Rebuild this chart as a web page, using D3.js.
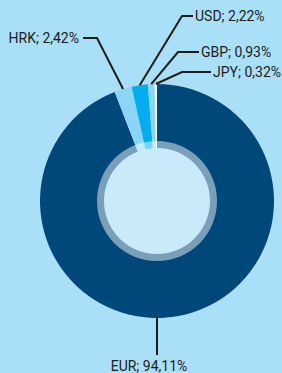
<!DOCTYPE html>
<html>
<head>
<meta charset="utf-8">
<script src="https://cdn.jsdelivr.net/npm/d3@7"></script>
<style>
  html, body { margin: 0; padding: 0; background: #aadff8; }
  svg { display: block; }
  .lbl { font-family: Roboto, "Noto Sans", sans-serif; font-size: 14px; fill: #1d1d1b; }
</style>
</head>
<body>
<svg id="chart"></svg>
<script>
// data
const currencies = ["EUR", "HRK", "USD", "GBP", "JPY"]
const shares = [94.11, 2.42, 2.22, 0.93, 0.32]
const shareLabels = ["94,11%", "2,42%", "2,22%", "0,93%", "0,32%"]
const sliceColors = ["#00477a", "#8dd5f6", "#00aeef", "#8dd5f6", "#ffffff"]

const width = 282, height = 373
const cx = 157, cy = 201
const rOuter = 117, rRing = 60, rInner = 53

// where each label sits (elbow x, line end x, text x, y); EUR goes straight down
const labelPos = {
    HRK: {elbow: 97, hx: 83, tx: 79, y: 38, anchor: "end"},
    USD: {elbow: 182, hx: 193, tx: 195, y: 16, anchor: "start"},
    GBP: {elbow: 178, hx: 199, tx: 201, y: 52, anchor: "start"},
    JPY: {elbow: 182, hx: 211, tx: 213, y: 72, anchor: "start"}
}

const svg = d3.select("#chart").attr("width", width).attr("height", height)

const data = currencies.map((c, i) => ({name: c, value: shares[i], label: shareLabels[i], color: sliceColors[i]}))

const pie = d3.pie().value(d => d.value).sort(null)
const arc = d3.arc().innerRadius(0).outerRadius(rOuter)
const arcs = pie(data)

const g = svg.append("g").attr("transform", `translate(${cx},${cy})`)

g.selectAll("path.slice")
    .data(arcs)
    .enter().append("path")
    .attr("class", "slice")
    .attr("d", arc)
    .attr("fill", d => d.data.color)

// translucent ring + inner disc
g.append("circle").attr("r", rRing).attr("fill", "#ffffff").attr("fill-opacity", 0.48)
g.append("circle").attr("r", rInner).attr("fill", "#c9eaf9")

// leader lines
const lines = svg.append("g")
arcs.forEach(d => {
    const mid = (d.startAngle + d.endAngle) / 2
    const sx = cx + rOuter * Math.sin(mid)
    const sy = cy - rOuter * Math.cos(mid)
    const txt = d.data.name + "; " + d.data.label
    if(d.data.name === "EUR"){
        lines.append("path")
            .attr("d", `M${cx},${cy + rOuter} V${cy + rOuter + 37}`)
            .attr("stroke", "#1d1d1b").attr("stroke-width", 2).attr("fill", "none")
        svg.append("text").attr("class", "lbl")
            .attr("x", cx - 8).attr("y", cy + rOuter + 53)
            .attr("text-anchor", "middle")
            .text(txt)
        return
    }
    const p = labelPos[d.data.name]
    lines.append("path")
        .attr("d", `M${sx},${sy} L${p.elbow},${p.y} H${p.hx}`)
        .attr("stroke", "#1d1d1b").attr("stroke-width", 2).attr("fill", "none")
    svg.append("text").attr("class", "lbl")
        .attr("x", p.tx).attr("y", p.y + 5)
        .attr("text-anchor", p.anchor)
        .text(txt)
})
</script>
</body>
</html>
